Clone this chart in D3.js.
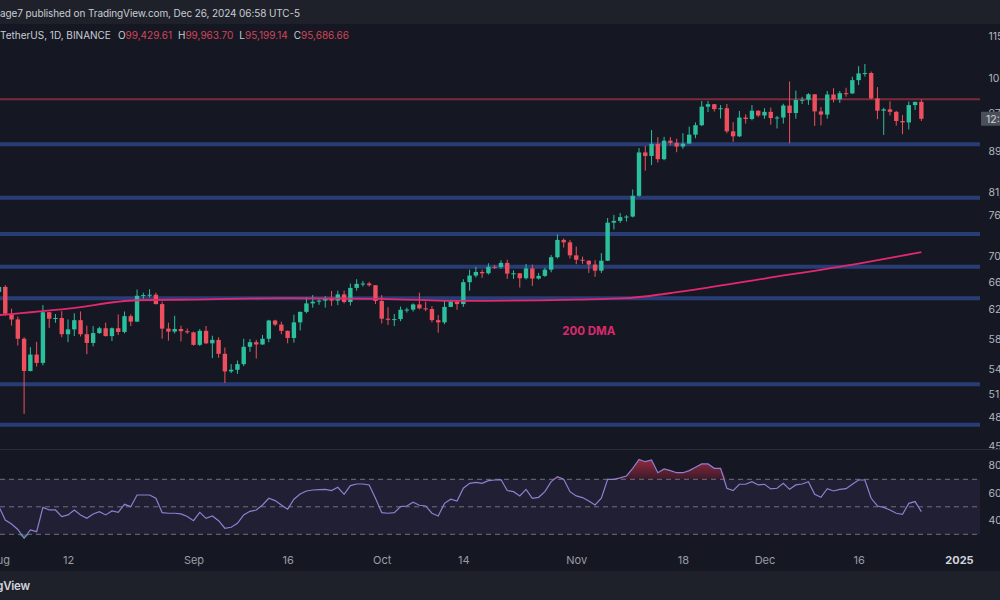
<!DOCTYPE html>
<html>
<head>
<meta charset="utf-8">
<script src="https://cdn.jsdelivr.net/npm/d3@7"></script>
<style>
html, body { margin: 0; padding: 0; background: #151822; overflow: hidden; }
svg { display: block; font-family: Inter, "Noto Sans", sans-serif; }
</style>
</head>
<body>
<svg id="chart" width="1000" height="600"></svg>
<script>
// BTC/USDT daily, values in thousands of USDT, one entry per day from startDay
var startDay = "2024-08-01";
var opens = [64.62,65.35,61.50,60.70,58.10,54.00,56.05,55.00,61.70,60.80,60.90,58.70,59.35,60.60,58.70,57.55,58.85,59.50,58.45,59.50,59.00,61.15,60.40,64.05,64.15,64.20,62.85,59.45,59.05,59.40,59.10,
  58.95,57.30,59.15,57.50,57.95,56.15,53.95,54.15,54.85,57.05,57.65,57.35,58.10,60.55,60.00,59.15,58.20,60.30,61.75,62.95,63.20,63.35,63.60,63.35,64.25,63.15,65.20,65.80,65.85,65.60,
  63.30,60.80,60.65,60.75,62.05,62.07,62.80,62.25,62.15,60.60,60.30,62.45,63.20,62.85,66.05,67.05,67.60,67.40,68.40,68.35,69.00,67.35,67.40,66.65,68.15,66.60,67.00,67.95,69.90,72.70,72.30,
  70.20,69.50,69.35,68.75,67.80,69.35,75.60,75.90,76.55,76.65,80.35,88.65,87.95,90.40,87.30,91.05,90.60,89.85,90.45,92.30,94.30,98.35,98.90,97.80,98.00,93.00,91.95,95.95,95.65,97.45,
  96.40,97.20,95.85,95.95,98.60,96.95,99.85,99.90,101.15,97.30,96.60,101.10,100.00,101.40,101.35,104.45,106.05,106.15,100.20,97.45,97.75,97.20,95.20,94.90,98.70,99.43];
var highs = [65.60,65.60,62.20,61.10,58.30,57.00,57.70,62.70,61.75,61.45,61.85,60.70,61.55,61.80,59.85,59.80,59.70,60.25,59.60,61.40,61.80,61.40,64.95,64.50,65.00,64.50,63.20,60.25,61.20,59.85,59.45,
  59.05,59.40,59.80,58.50,58.30,56.95,54.85,55.30,58.10,58.05,57.95,58.60,60.65,60.65,60.40,59.20,61.35,61.80,63.85,64.15,63.55,64.00,64.75,64.80,64.80,65.85,66.50,66.25,66.10,65.60,
  64.15,62.40,61.45,62.50,62.35,62.95,64.50,63.20,62.55,61.30,63.40,63.45,63.30,66.50,67.95,68.40,67.95,68.95,68.70,69.40,69.50,67.85,67.45,68.85,68.75,67.45,68.25,70.25,73.60,72.95,72.70,
  71.60,70.00,69.40,69.45,70.55,76.40,76.95,77.25,76.90,81.50,89.55,89.95,93.25,91.80,91.85,91.80,91.45,92.60,94.00,94.90,99.60,99.60,98.95,98.70,98.95,94.95,97.40,96.65,98.70,97.50,
  98.00,98.15,96.30,99.00,104.10,102.00,100.55,101.40,101.20,98.25,101.90,102.55,101.90,102.65,105.25,107.80,108.35,106.50,102.80,98.10,99.55,97.40,96.50,99.50,99.45,99.96];
var lows = [62.30,61.20,59.85,57.20,49.00,53.95,54.55,54.70,59.55,60.25,58.30,57.65,58.45,58.40,56.10,57.10,58.75,58.40,57.80,58.60,58.80,59.80,60.35,63.60,63.80,62.80,58.10,57.85,58.80,57.75,58.75,
  57.20,57.15,57.40,55.60,55.65,52.55,53.75,53.65,54.60,56.40,55.55,57.30,57.65,59.80,58.70,57.50,57.60,59.20,61.55,62.35,62.75,62.35,62.60,62.70,62.95,62.65,64.80,65.40,65.40,62.85,
  60.15,59.95,59.80,60.45,61.65,61.80,62.10,61.85,60.30,58.90,60.05,62.45,62.05,62.45,64.80,66.75,66.70,67.20,68.05,68.10,66.55,66.55,65.25,66.45,65.50,66.45,66.85,67.55,69.70,71.45,69.70,
  68.80,68.85,67.45,66.85,67.45,69.30,74.45,75.55,75.80,76.50,80.20,85.05,86.15,86.65,87.10,90.10,88.70,89.40,90.40,91.55,94.10,97.15,97.25,95.75,92.60,90.80,91.80,94.65,95.35,96.05,
  95.70,94.40,93.60,94.65,90.50,95.70,98.95,98.75,94.15,94.25,95.70,99.30,99.20,100.60,101.25,103.30,105.30,100.00,95.60,92.25,96.40,94.20,92.40,93.40,97.60,95.20];
var closes = [65.35,61.50,60.70,58.10,54.00,56.05,55.00,61.70,60.80,60.90,58.70,59.35,60.60,58.70,57.55,58.85,59.50,58.45,59.50,59.00,61.15,60.40,64.05,64.15,64.20,62.85,59.45,59.05,59.40,59.10,58.95,
  57.30,59.15,57.50,57.95,56.15,53.95,54.15,54.85,57.05,57.65,57.35,58.10,60.55,60.00,59.15,58.20,60.30,61.75,62.95,63.20,63.35,63.60,63.35,64.25,63.15,65.20,65.80,65.85,65.60,63.30,
  60.80,60.65,60.75,62.05,62.07,62.80,62.25,62.15,60.60,60.30,62.45,63.20,62.85,66.05,67.05,67.60,67.40,68.40,68.35,69.00,67.35,67.40,66.65,68.15,66.60,67.00,67.95,69.90,72.70,72.30,70.20,
  69.50,69.35,68.75,67.80,69.35,75.60,75.90,76.55,76.65,80.35,88.65,87.95,90.40,87.30,91.05,90.60,89.85,90.45,92.30,94.30,98.35,98.90,97.80,98.00,93.00,91.95,95.95,95.65,97.45,96.40,
  97.20,95.85,95.95,98.60,96.95,99.85,99.90,101.15,97.30,96.60,101.10,100.00,101.40,101.35,104.45,106.05,106.15,100.20,97.45,97.75,97.20,95.20,94.90,98.70,99.43,95.69];
var rsiValues = [50.1,40.4,37.5,33.5,27.1,33.2,31.9,49.6,47.7,47.7,42.9,44.1,47.7,44.1,41.6,44.8,46.5,44.1,47.0,46.0,51.8,50.1,58.6,58.6,58.6,56.2,45.8,45.3,45.3,44.8,42.9,
  39.9,46.0,41.6,43.3,39.9,34.4,35.1,38.0,44.1,46.7,47.7,51.3,56.2,54.5,51.3,48.2,55.5,59.3,61.5,62.2,62.5,62.7,61.8,64.2,59.1,65.4,66.6,66.6,65.9,56.2,
  45.8,45.3,45.8,50.1,50.6,53.3,51.1,50.6,45.3,43.3,52.5,55.5,54.2,63.5,67.1,67.8,67.1,69.0,69.5,69.8,61.8,61.0,57.9,62.7,56.2,56.9,61.0,68.3,71.9,70.0,61.0,
  57.9,56.7,54.2,51.3,56.2,70.0,70.0,71.0,72.4,78.0,84.5,82.8,84.1,74.8,77.5,76.3,74.8,74.8,76.3,78.7,81.2,81.2,78.0,78.0,63.5,61.8,66.4,66.4,68.3,65.9,
  66.4,63.0,63.5,67.1,62.7,65.9,66.6,68.3,59.1,56.9,63.2,61.5,62.7,63.2,66.4,69.5,69.5,56.2,50.6,49.6,47.7,45.3,44.5,52.5,53.8,46.5];

// 200 DMA readings
var dmaDates = ["2024-08-01","2024-08-12","2024-08-23","2024-09-01","2024-09-16","2024-10-01","2024-10-14","2024-11-01","2024-11-09","2024-11-18","2024-12-01","2024-12-16","2024-12-26"];
var dmaValues = [61.3,62.2,63.4,63.5,63.7,63.6,63.3,63.5,63.7,64.7,66.6,68.9,70.7];

// drawn levels
var resistanceLevels = [100.0];
var supportLevels = [90.3, 80.0, 73.7, 68.4, 63.7, 52.4, 47.8];

// axis ticks
var priceTicks = [115.5, 104.9, 97.0, 89.0, 81.0, 76.9, 70.1, 66.0, 62.2, 58.1, 54.2, 51.2, 48.6, 45.5];
var rsiTicks = [80, 60, 40];
var rsiBands = [70, 50, 30];
var timeTicks = ["2024-08-01","2024-08-12","2024-09-01","2024-09-16","2024-10-01","2024-10-14","2024-11-01","2024-11-18","2024-12-01","2024-12-16","2025-01-01"];
var timeLabels = ["Aug","12","Sep","16","Oct","14","Nov","18","Dec","16","2025"];
var lastBar = {o: "99,429.61", h: "99,963.70", l: "95,199.14", c: "95,686.66"};

var plotRight = 980;
var GREEN = '#2bbf9d', RED = '#ee4f5e';
var FONT = 'Inter, "Noto Sans", sans-serif';

var svg = d3.select('#chart');
var parseDay = d3.utcParse('%Y-%m-%d');
var day0 = parseDay(startDay);

var candles = opens.map((o, i) => ({
  date: d3.utcDay.offset(day0, i), o: o, h: highs[i], l: lows[i], c: closes[i], rsi: rsiValues[i]
}));

var x = d3.scaleUtc().domain([parseDay('2024-08-01'), parseDay('2025-01-01')]).range([-1, 959]);
var y = d3.scaleLog().domain([45, 115]).range([451.4, 37.7]);
var yRsi = d3.scaleLinear().domain([30, 70]).range([534.3, 479.3]);

// backgrounds
svg.append('rect').attr('width', 1000).attr('height', 600).attr('fill', '#151822');
svg.append('rect').attr('width', 1000).attr('height', 24).attr('fill', '#1e212a');
svg.append('rect').attr('y', 571).attr('width', 1000).attr('height', 29).attr('fill', '#1e212a');

var defs = svg.append('defs');
defs.append('clipPath').attr('id', 'pricePane').append('rect')
  .attr('x', 0).attr('y', 24).attr('width', plotRight).attr('height', 425);
defs.append('clipPath').attr('id', 'rsiPane').append('rect')
  .attr('x', 0).attr('y', 451).attr('width', plotRight).attr('height', 90);

// price pane
var price = svg.append('g').attr('clip-path', 'url(#pricePane)');

price.selectAll('line.support').data(supportLevels).enter().append('line')
  .attr('class', 'support')
  .attr('x1', 0).attr('x2', plotRight)
  .attr('y1', d => y(d)).attr('y2', d => y(d))
  .attr('stroke', '#283c76').attr('stroke-width', 4);

price.selectAll('line.resist').data(resistanceLevels).enter().append('line')
  .attr('class', 'resist')
  .attr('x1', 0).attr('x2', plotRight)
  .attr('y1', d => y(d)).attr('y2', d => y(d))
  .attr('stroke', '#7e2a3a').attr('stroke-width', 2);

var bodyW = 4.4;
var cg = price.selectAll('g.candle').data(candles).enter().append('g').attr('class', 'candle');
cg.append('line')
  .attr('x1', d => x(d.date)).attr('x2', d => x(d.date))
  .attr('y1', d => y(d.h)).attr('y2', d => y(d.l))
  .attr('stroke', d => d.c >= d.o ? GREEN : RED).attr('stroke-width', 1);
cg.append('rect')
  .attr('x', d => x(d.date) - bodyW / 2)
  .attr('width', bodyW)
  .attr('y', d => y(Math.max(d.o, d.c)))
  .attr('height', d => Math.max(1, Math.abs(y(d.o) - y(d.c))))
  .attr('fill', d => d.c >= d.o ? GREEN : RED);

var dmaLine = d3.line()
  .x((d, i) => x(parseDay(dmaDates[i])))
  .y(d => y(d))
  .curve(d3.curveMonotoneX);
price.append('path').datum(dmaValues)
  .attr('d', dmaLine)
  .attr('fill', 'none').attr('stroke', '#e3286f').attr('stroke-width', 1.8);

svg.append('text')
  .attr('x', x(parseDay('2024-11-03'))).attr('y', y(59.1) + 4)
  .attr('text-anchor', 'middle')
  .attr('fill', '#d92a6c').attr('font-size', 11.5).attr('font-weight', 700)
  .text('200 DMA');

// price axis
var yAxis = d3.axisRight(y).tickValues(priceTicks)
  .tickFormat(v => d3.format(',.2f')(v * 1000)).tickSize(0).tickPadding(0);
var ya = svg.append('g').attr('transform', 'translate(988.5,0)').call(yAxis);
ya.select('.domain').remove();
ya.selectAll('text').attr('fill', '#b2b5be').attr('font-size', 10.5).attr('font-family', FONT);

// current price countdown box
var last = candles[candles.length - 1];
svg.append('rect').attr('x', 981).attr('y', y(last.c) - 7).attr('width', 30).attr('height', 14).attr('fill', '#4b4f5a');
svg.append('text').attr('x', 986).attr('y', y(last.c) + 4)
  .attr('fill', '#d1d4dc').attr('font-size', 10.5).attr('font-family', FONT).text('12:01:07');

// pane separator
svg.append('line').attr('x1', 0).attr('x2', 1000).attr('y1', 449.5).attr('y2', 449.5)
  .attr('stroke', '#2a2e39').attr('stroke-width', 1);

// RSI pane
var rsiG = svg.append('g').attr('clip-path', 'url(#rsiPane)');
rsiG.append('rect')
  .attr('x', 0).attr('width', plotRight)
  .attr('y', yRsi(70)).attr('height', yRsi(30) - yRsi(70))
  .attr('fill', 'rgba(126,87,194,0.11)');

var grad = defs.append('linearGradient').attr('id', 'obFill')
  .attr('gradientUnits', 'userSpaceOnUse')
  .attr('x1', 0).attr('x2', 0).attr('y1', yRsi(86)).attr('y2', yRsi(70));
grad.append('stop').attr('offset', 0).attr('stop-color', '#9a2c40');
grad.append('stop').attr('offset', 1).attr('stop-color', '#3b1a2a');

rsiG.append('path').datum(candles)
  .attr('d', d3.area().x(d => x(d.date)).y0(yRsi(70)).y1(d => yRsi(Math.max(70, d.rsi))))
  .attr('fill', 'url(#obFill)');
rsiG.append('path').datum(candles)
  .attr('d', d3.area().x(d => x(d.date)).y0(yRsi(30)).y1(d => yRsi(Math.min(30, d.rsi))))
  .attr('fill', '#1e5a4c');

rsiG.selectAll('line.band').data(rsiBands).enter().append('line')
  .attr('class', 'band')
  .attr('x1', 0).attr('x2', plotRight)
  .attr('y1', d => yRsi(d)).attr('y2', d => yRsi(d))
  .attr('stroke', '#6f7280').attr('stroke-width', 1).attr('stroke-dasharray', '5,4');

rsiG.append('path').datum(candles)
  .attr('d', d3.line().x(d => x(d.date)).y(d => yRsi(d.rsi)))
  .attr('fill', 'none').attr('stroke', '#8f7fd0').attr('stroke-width', 1.2);

var rAxis = d3.axisRight(yRsi).tickValues(rsiTicks).tickFormat(d3.format('.2f')).tickSize(0).tickPadding(0);
var ra = svg.append('g').attr('transform', 'translate(988.5,0)').call(rAxis);
ra.select('.domain').remove();
ra.selectAll('text').attr('fill', '#b2b5be').attr('font-size', 10.5).attr('font-family', FONT);

// time axis
var xAxis = d3.axisBottom(x).tickValues(timeTicks.map(parseDay))
  .tickFormat((d, i) => timeLabels[i]).tickSize(0).tickPadding(0);
var xa = svg.append('g').attr('transform', 'translate(0,556)').call(xAxis);
xa.select('.domain').remove();
xa.selectAll('text')
  .attr('fill', (d, i) => i === timeLabels.length - 1 ? '#d1d4dc' : '#9a9da6')
  .attr('font-weight', (d, i) => i === timeLabels.length - 1 ? 700 : 400)
  .attr('font-size', 11).attr('font-family', FONT);

// header texts
svg.append('text').attr('x', 0).attr('y', 17)
  .attr('fill', '#c9ccd4').attr('font-size', 10).attr('letter-spacing', -0.1)
  .text('age7 published on TradingView.com, Dec 26, 2024 06:58 UTC-5');

var info = svg.append('text').attr('x', 0).attr('y', 39).attr('font-size', 10).attr('fill', '#c9ccd4');
info.append('tspan').text('TetherUS, 1D, BINANCE');
[['O', lastBar.o], ['H', lastBar.h], ['L', lastBar.l], ['C', lastBar.c]].forEach(function (p, i) {
  info.append('tspan').attr('dx', i ? 6 : 7).attr('fill', '#c9ccd4').text(p[0]);
  info.append('tspan').attr('fill', '#d2455a').text(p[1]);
});

// footer
svg.append('text').attr('x', 30).attr('y', 590).attr('text-anchor', 'end')
  .attr('fill', '#d1d4dc').attr('font-size', 11.5).attr('font-weight', 600).attr('letter-spacing', -0.2)
  .text('TradingView');
</script>
</body>
</html>
